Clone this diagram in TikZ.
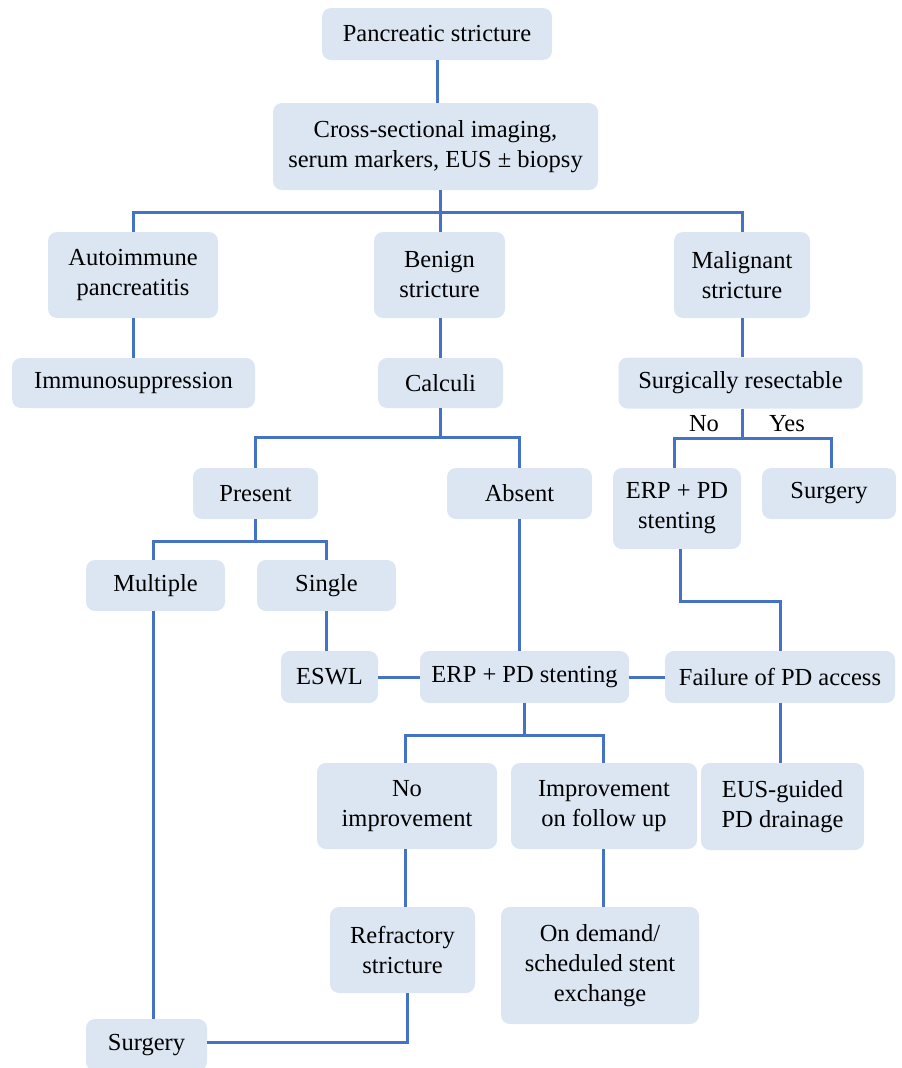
\documentclass[tikz,border=0pt]{standalone}
\usepackage{fontspec}
\setmainfont{Liberation Serif}
\definecolor{boxfill}{HTML}{DCE6F2}
\definecolor{linecol}{HTML}{4472C4}
\begin{document}
\begin{tikzpicture}[x=1pt,y=-1pt,
  box/.style={fill=boxfill, rounded corners=9pt, inner sep=0pt, align=center,
    font=\fontsize{24.5}{30}\selectfont},
  conn/.style={draw=linecol, line width=3pt},
  lbl/.style={font=\fontsize{24.5}{30}\selectfont, inner sep=0pt}]
\useasboundingbox (0,0) rectangle (902,1068);
\begin{scope}
\clip (0,0) rectangle (902,1068);
\node[box, minimum width=230pt, minimum height=52pt] (ps) at (437,34) {Pancreatic stricture};
\node[box, minimum width=325pt, minimum height=87pt] (cs) at (435.5,146.5) {Cross-sectional imaging,\\serum markers, EUS ± biopsy};
\node[box, minimum width=170pt, minimum height=86pt] (ai) at (133,275) {Autoimmune\\pancreatitis};
\node[box, minimum width=131pt, minimum height=86pt] (bs) at (439.5,275) {Benign\\stricture};
\node[box, minimum width=136pt, minimum height=86pt] (ms) at (742,275) {Malignant\\stricture};
\node[box, minimum width=243pt, minimum height=50pt] (im) at (133.5,383) {Immunosuppression};
\node[box, minimum width=125pt, minimum height=50pt] (ca) at (440.5,383) {Calculi};
\node[box, minimum width=244pt, minimum height=51pt] (sr) at (740.5,383) {Surgically resectable};
\node[box, minimum width=128pt, minimum height=81pt] (erpR) at (677,508.5) {ERP + PD\\stenting};
\node[box, minimum width=134pt, minimum height=51pt] (sgR) at (829,493.5) {Surgery};
\node[box, minimum width=125pt, minimum height=51pt] (pr) at (255.5,493.5) {Present};
\node[box, minimum width=145pt, minimum height=51pt] (ab) at (519.5,493.5) {Absent};
\node[box, minimum width=139pt, minimum height=51pt] (mu) at (155.5,585.5) {Multiple};
\node[box, minimum width=139pt, minimum height=51pt] (si) at (326.5,585.5) {Single};
\node[box, minimum width=97pt, minimum height=52pt] (es) at (329.5,677) {ESWL};
\node[box, minimum width=209pt, minimum height=52pt] (erpC) at (524.5,677) {ERP + PD stenting};
\node[box, minimum width=230pt, minimum height=52pt] (fa) at (780,677) {Failure of PD access};
\node[box, minimum width=163pt, minimum height=87pt] (eus) at (782.5,806.5) {EUS-guided\\PD drainage};
\node[box, minimum width=180pt, minimum height=86pt] (ni) at (407,806) {No\\improvement};
\node[box, minimum width=186pt, minimum height=86pt] (iu) at (604,806) {Improvement\\on follow up};
\node[box, minimum width=145pt, minimum height=86pt] (rs) at (402.5,950) {Refractory\\stricture};
\node[box, minimum width=198pt, minimum height=117pt] (od) at (600,965.5) {On demand/\\scheduled stent\\exchange};
\node[box, minimum width=121pt, minimum height=52pt] (sgB) at (146.5,1045) {Surgery};

\node[lbl] (no) at (704,424) {No};
\node[lbl] (yes) at (787,424) {Yes};

% connectors
\coordinate (b1) at (440,212);
\coordinate (b2) at (742,438);
\coordinate (b3) at (440,437);
\coordinate (b4) at (153,541);
\coordinate (b5) at (524,735);
\coordinate (b6) at (680,601);
\coordinate (b7) at (407,1042);

\draw[conn] (ps.south) -- (ps.south |- cs.north);
\draw[conn] (cs.south -| b1) -- (b1);
\draw[conn] (ai.north) -- (ai.north |- b1) -- (ms.north |- b1) -- (ms.north);
\draw[conn] (bs.north -| b1) -- (b1);
\draw[conn] (ai.south) -- (ai.south |- im.north);
\draw[conn] (bs.south -| ca) -- (ca.north);
\draw[conn] (ms.south) -- (sr.north -| ms.south);
\draw[conn] (sr.south -| b2) -- (b2);
\draw[conn] ([xshift=-3pt]erpR.north) -- ([xshift=-3pt]erpR.north |- b2) -- ([xshift=2pt]sgR.north |- b2) -- ([xshift=2pt]sgR.north);
\draw[conn] (ca.south) -- (ca.south |- b3);
\draw[conn] (pr.north) -- (pr.north |- b3) -- (ab.north |- b3) -- (ab.north);
\draw[conn] (pr.south) -- (pr.south |- b4);
\draw[conn] ([xshift=-2pt]mu.north) -- ([xshift=-2pt]mu.north |- b4) -- (si.north |- b4) -- (si.north);
\draw[conn] (si.south) -- (es.north -| si.south);
\draw[conn] (ab.south) -- (erpC.north -| ab.south);
\draw[conn] (es.east) -- (erpC.west);
\draw[conn] (erpC.east) -- (fa.west);
\draw[conn] (erpR.south -| b6) -- (b6) -- (fa.north |- b6) -- (fa.north);
\draw[conn] (fa.south) -- (eus.north -| fa.south);
\draw[conn] (erpC.south -| b5) -- (b5);
\draw[conn] ([xshift=-2pt]ni.north) -- ([xshift=-2pt]ni.north |- b5) -- ([xshift=-1pt]iu.north |- b5) -- ([xshift=-1pt]iu.north);
\draw[conn] ([xshift=-2pt]ni.south) -- ([xshift=-2pt]ni.south |- rs.north);
\draw[conn] ([xshift=-1pt]iu.south) -- ([xshift=-1pt]iu.south |- od.north);
\draw[conn] (rs.south -| b7) -- (b7) -- (sgB.east |- b7);
\draw[conn] ([xshift=-2pt]mu.south) -- ([xshift=-2pt]mu.south |- sgB.north);
\end{scope}
\end{tikzpicture}
\end{document}
